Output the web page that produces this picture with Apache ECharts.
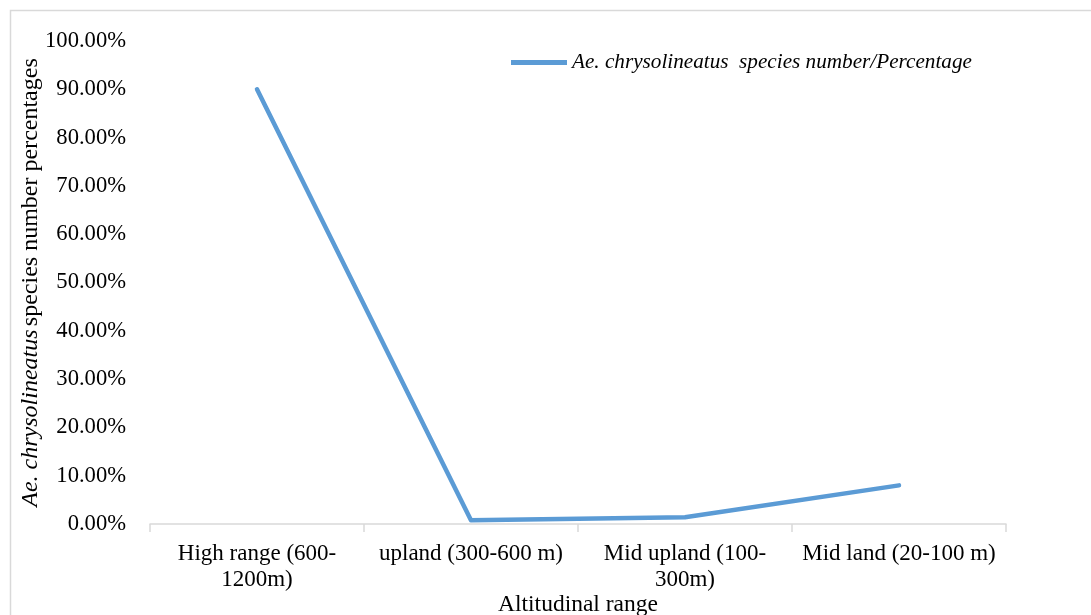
<!DOCTYPE html>
<html>
<head>
<meta charset="utf-8">
<script src="https://cdn.jsdelivr.net/npm/echarts@6/dist/echarts.min.js"></script>
<style>
html,body{margin:0;padding:0;background:#fff;}
#chart{width:1091px;height:615px;}
</style>
</head>
<body>
<div id="chart"></div>
<script>
var categories = ['High range (600-\n1200m)', 'upland (300-600 m)', 'Mid upland (100-\n300m)', 'Mid land (20-100 m)'];
var seriesName = 'Ae. chrysolineatus  species number/Percentage';
var values = [90.0, 0.8, 1.4, 8.0];
var yMin = 0, yMax = 100, yInterval = 10;

var chart = echarts.init(document.getElementById('chart'));
var font = '"Liberation Serif", "Times New Roman", serif';
chart.setOption({
  backgroundColor: '#fff',
  animation: false,
  graphic: [{
    type: 'rect', shape: {x: 10.5, y: 10.5, width: 1100, height: 700},
    style: {fill: 'none', stroke: '#d9d9d9', lineWidth: 1.5}, silent: true, z: -1
  }],
  legend: {
    left: 506, top: 47,
    itemWidth: 56, itemHeight: 5, icon: 'rect', itemGap: 4,
    textStyle: {fontFamily: font, fontSize: 21.2, fontStyle: 'italic', color: '#000'},
    data: [seriesName]
  },
  grid: {left: 150, right: 85, top: 41, bottom: 91, containLabel: false, outerBoundsMode: 'none'},
  xAxis: {
    type: 'category', data: categories, boundaryGap: true,
    axisLine: {lineStyle: {color: '#d9d9d9', width: 1.5}},
    axisTick: {show: true, length: 8, lineStyle: {color: '#d9d9d9', width: 1.5}},
    axisLabel: {fontFamily: font, fontSize: 23, color: '#000', margin: 17, lineHeight: 26, interval: 0, align: 'center'},
    name: 'Altitudinal range', nameLocation: 'middle', nameGap: 69, nameMoveOverlap: false,
    nameTextStyle: {fontFamily: font, fontSize: 23.5, color: '#000'}
  },
  yAxis: {
    type: 'value', min: yMin, max: yMax, interval: yInterval,
    axisLine: {show: false}, axisTick: {show: false}, splitLine: {show: false},
    axisLabel: {fontFamily: font, fontSize: 22.6, color: '#000', margin: 24,
      formatter: function (v) { return v.toFixed(2) + '%'; }},
    name: '{i|Ae. chrysolineatus} {n|species number percentages}',
    nameLocation: 'middle', nameGap: 107, nameRotate: 90, nameMoveOverlap: false,
    nameTextStyle: {
      rich: {
        i: {fontFamily: font, fontSize: 24, fontStyle: 'italic', color: '#000'},
        n: {fontFamily: font, fontSize: 24, color: '#000'}
      }
    }
  },
  series: [{
    name: seriesName, type: 'line', data: values,
    symbol: 'none',
    lineStyle: {color: '#5b9bd5', width: 4.5, cap: 'round', join: 'round'},
    itemStyle: {color: '#5b9bd5'}
  }]
});
</script>
</body>
</html>
